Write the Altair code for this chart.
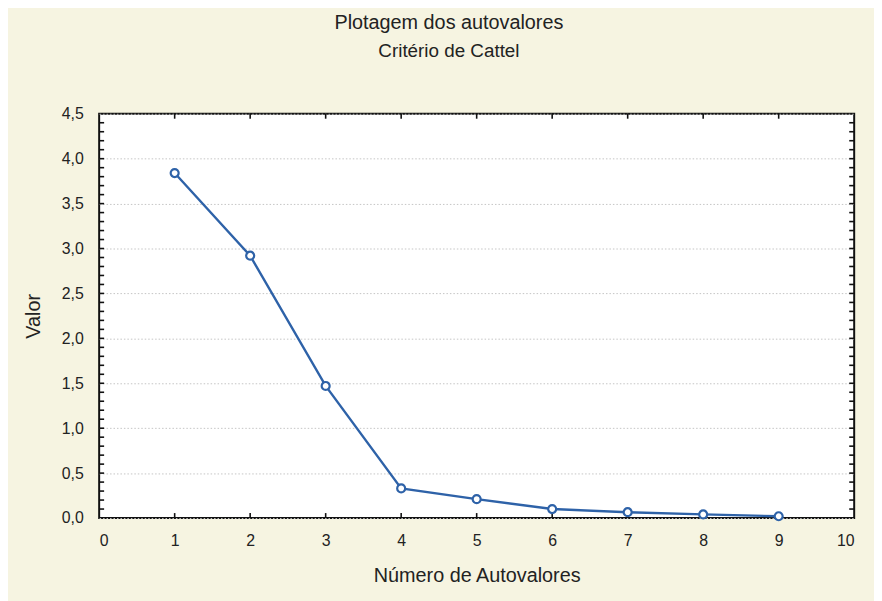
import altair as alt
import pandas as pd

# Data
components = [1, 2, 3, 4, 5, 6, 7, 8, 9]
eigenvalues = [3.84, 2.92, 1.47, 0.33, 0.21, 0.10, 0.065, 0.04, 0.02]

x_tick_values = [0, 1, 2, 3, 4, 5, 6, 7, 8, 9, 10]
y_tick_values = [0.0, 0.5, 1.0, 1.5, 2.0, 2.5, 3.0, 3.5, 4.0, 4.5]
x_inner_ticks = [1, 2, 3, 4, 5, 6, 7, 8, 9]
y_minor_ticks = [round(i * 0.1, 1) for i in range(1, 45)]

W, H = 762, 408
BLUE = "#2e62a8"
FONT = "Liberation Sans"

df = pd.DataFrame({"n": components, "v": eigenvalues})
df_xt = pd.DataFrame({"t": x_inner_ticks})
df_yt = pd.DataFrame({"t": y_minor_ticks})

xscale = alt.Scale(domain=[0, 10], nice=False, zero=False)
yscale = alt.Scale(domain=[0, 4.5], nice=False, zero=False)

x_axis = alt.Axis(
    values=x_tick_values, ticks=False, domain=False, grid=False,
    labelFont=FONT, labelFontSize=16, labelColor="#222222", labelPadding=15,
    labelExpr="format(datum.value, 'd')",
    title="Número de Autovalores", titleFont=FONT, titleFontSize=20,
    titleFontWeight="normal", titleColor="#222222", titlePadding=17,
)
y_axis = alt.Axis(
    values=y_tick_values, ticks=False, domain=False, grid=True,
    gridColor="#c4c4c4", gridDash=[1.5, 2], gridWidth=1,
    labelFont=FONT, labelFontSize=16, labelColor="#222222", labelPadding=16,
    labelExpr="replace(format(datum.value, '.1f'), '.', ',')",
    title="Valor", titleFont=FONT, titleFontSize=20,
    titleFontWeight="normal", titleColor="#222222", titlePadding=18,
)

base = alt.Chart(df)

line = base.mark_line(color=BLUE, strokeWidth=2.4).encode(
    x=alt.X("n:Q", scale=xscale, axis=x_axis),
    y=alt.Y("v:Q", scale=yscale, axis=y_axis),
)
pts = base.mark_point(
    shape="circle", filled=True, fill="white", stroke=BLUE,
    strokeWidth=2.2, size=65, opacity=1,
).encode(x=alt.X("n:Q", scale=xscale), y=alt.Y("v:Q", scale=yscale))

left_ticks = alt.Chart(df_yt).mark_rule(color="#111111", strokeWidth=1.6).encode(
    y=alt.Y("t:Q", scale=yscale), x=alt.value(0), x2=alt.value(5)
)
right_ticks = alt.Chart(df_yt).mark_rule(color="#111111", strokeWidth=1.6).encode(
    y=alt.Y("t:Q", scale=yscale), x=alt.value(W), x2=alt.value(W - 5)
)
top_ticks = alt.Chart(df_xt).mark_rule(color="#111111", strokeWidth=1.6).encode(
    x=alt.X("t:Q", scale=xscale), y=alt.value(0), y2=alt.value(5)
)
bottom_ticks = alt.Chart(df_xt).mark_rule(color="#111111", strokeWidth=1.6).encode(
    x=alt.X("t:Q", scale=xscale), y=alt.value(H), y2=alt.value(H - 5)
)

chart = alt.layer(
    left_ticks, right_ticks, top_ticks, bottom_ticks, line, pts
).properties(
    width=W,
    height=H,
    autosize=alt.AutoSizeParams(type="none"),
    padding={"left": 92, "top": 104, "right": 20, "bottom": 81},
    background="#f6f4e1",
    title=alt.TitleParams(
        text="Plotagem dos autovalores",
        subtitle="Critério de Cattel",
        font=FONT, fontSize=20, fontWeight="normal", color="#222222",
        subtitleFont=FONT, subtitleFontSize=19, subtitleColor="#222222",
        subtitlePadding=10, anchor="middle", frame="group", dx=-28, offset=45,
    ),
).configure_view(
    stroke="#111111", strokeWidth=2, fill="white"
)

chart.save("out.html", embed_options={"renderer": "svg", "actions": False})
